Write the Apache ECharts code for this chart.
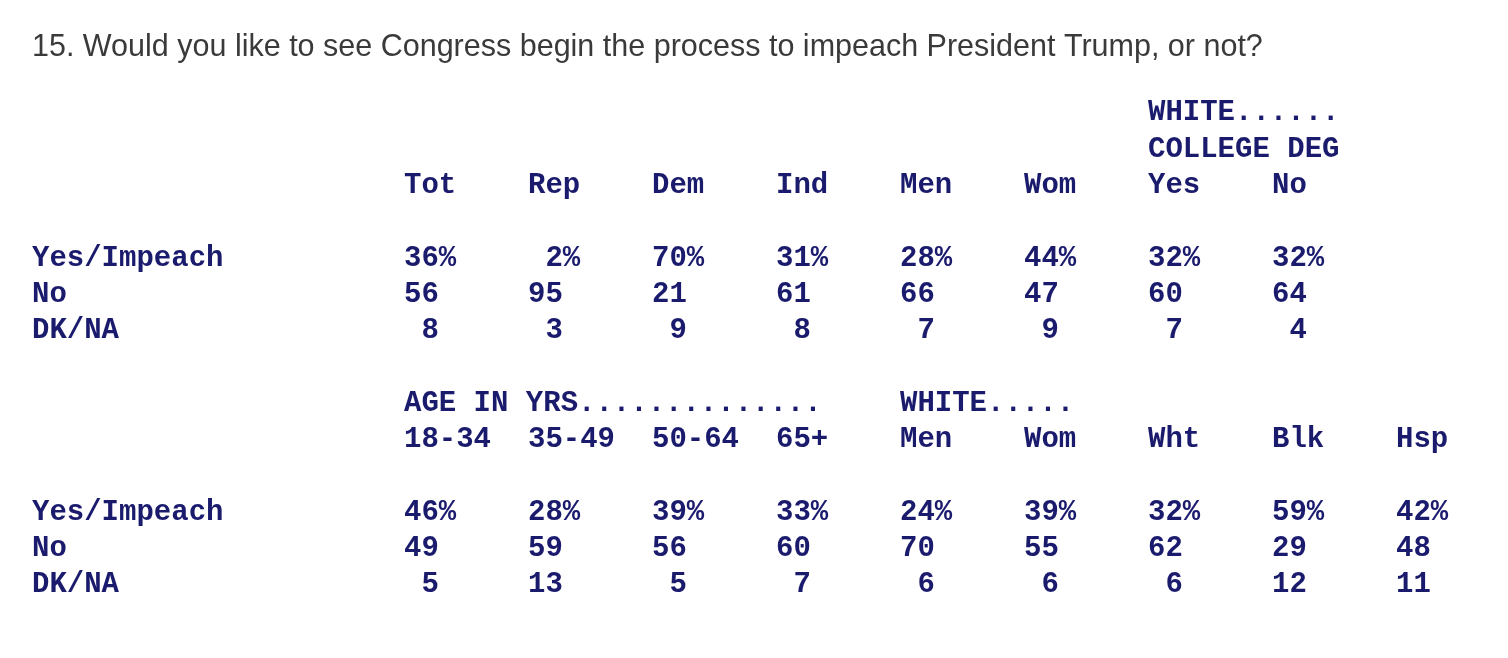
<!DOCTYPE html>
<html>
<head>
<meta charset="utf-8">
<script src="https://cdn.jsdelivr.net/npm/echarts@6/dist/echarts.min.js"></script>
<style>
  html, body { margin: 0; padding: 0; background: #fff; }
  #main { width: 1508px; height: 658px; }
</style>
</head>
<body>
<div id="main"></div>
<script>
// question
var question = "15. Would you like to see Congress begin the process to impeach President Trump, or not?";

// answer rows
var rowLabels = ["Yes/Impeach", "No", "DK/NA"];

// block 1
var bannerTop = ["WHITE......", "COLLEGE DEG"];
var colsTop = ["Tot", "Rep", "Dem", "Ind", "Men", "Wom", "Yes", "No"];
var yesTop = [36, 2, 70, 31, 28, 44, 32, 32];
var noTop = [56, 95, 21, 61, 66, 47, 60, 64];
var dkTop = [8, 3, 9, 8, 7, 9, 7, 4];

// block 2
var bannerAge = "AGE IN YRS..............";
var bannerWhite = "WHITE.....";
var colsBottom = ["18-34", "35-49", "50-64", "65+", "Men", "Wom", "Wht", "Blk", "Hsp"];
var yesBottom = [46, 28, 39, 33, 24, 39, 32, 59, 42];
var noBottom = [49, 59, 56, 60, 70, 55, 62, 29, 48];
var dkBottom = [5, 13, 5, 7, 6, 6, 6, 12, 11];

var FIRST_COL = 3; // data columns start 3 slots right of the row labels

function pad(v) {
    return String(v).padStart(2, " ");
}

// build cells: [column slot, row slot, text]
var cells = [];
function addBlock(startRow, cols, yes, no, dk) {
    cols.forEach(function (c, i) {
        cells.push([FIRST_COL + i, startRow, c]);
    });
    var rowsData = [yes, no, dk];
    rowsData.forEach(function (vals, r) {
        var row = startRow + 2 + r;
        cells.push([0, row, rowLabels[r]]);
        vals.forEach(function (v, i) {
            cells.push([FIRST_COL + i, row, r === 0 ? pad(v) + "%" : pad(v)]);
        });
    });
}

cells.push([FIRST_COL + 6, 0, bannerTop[0]]);
cells.push([FIRST_COL + 6, 1, bannerTop[1]]);
addBlock(2, colsTop, yesTop, noTop, dkTop);
cells.push([FIRST_COL, 8, bannerAge]);
cells.push([FIRST_COL + 4, 8, bannerWhite]);
addBlock(9, colsBottom, yesBottom, noBottom, dkBottom);

var chart = echarts.init(document.getElementById("main"));

chart.setOption({
    backgroundColor: "#ffffff",
    animation: false,
    title: {
        text: question,
        left: 27,
        top: 27,
        textStyle: {
            fontFamily: "Liberation Sans",
            fontWeight: "normal",
            fontSize: 30.5,
            color: "#3a3a3a"
        }
    },
    grid: {
        left: 32,
        right: 112,
        top: 113,
        bottom: 73
    },
    xAxis: {
        type: "value",
        min: 0,
        max: 11,
        show: false
    },
    yAxis: {
        type: "value",
        min: 0,
        max: 13,
        inverse: true,
        show: false
    },
    series: [{
        type: "custom",
        data: cells,
        renderItem: function (params, api) {
            var p = api.coord([api.value(0), api.value(1)]);
            return {
                type: "text",
                x: p[0],
                y: p[1],
                style: {
                    text: cells[params.dataIndex][2],
                    fill: "#1b1b6e",
                    font: "bold 29px 'Courier New', 'Liberation Mono', monospace",
                    textAlign: "left",
                    textVerticalAlign: "middle"
                }
            };
        }
    }]
});
</script>
</body>
</html>
